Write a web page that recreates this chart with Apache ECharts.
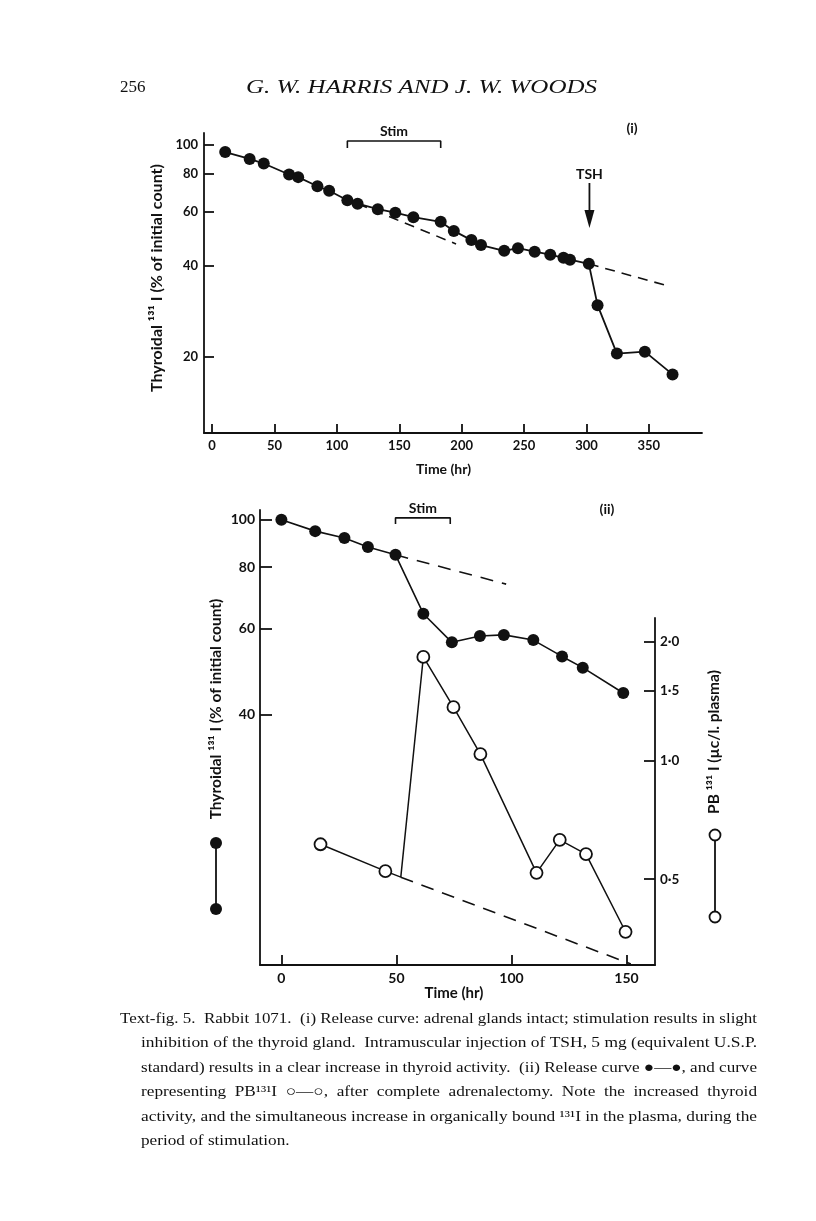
<!DOCTYPE html>
<html><head><meta charset="utf-8">
<script src="https://cdn.jsdelivr.net/npm/echarts@6/dist/echarts.min.js"></script>
<style>html,body{margin:0;padding:0;background:#fff}#c{width:816px;height:1221px}</style>
</head><body><div id="c"></div>
<script>
// ---------- Panel (i): release curve, adrenal glands intact ----------
const timeI = [10.5,30.1,41.4,61.7,69.0,84.4,93.8,108.4,116.6,132.8,146.8,161.3,183.2,193.7,207.8,215.5,234.1,245.1,258.5,271.0,281.6,286.8,301.9,308.9,324.4,346.8,369.0];
const thyroidI = [94.6,89.8,86.7,79.8,78.2,73.0,70.5,65.6,63.9,61.3,59.7,57.7,55.7,52.0,48.5,46.7,44.7,45.6,44.4,43.4,42.4,41.8,40.5,29.6,20.5,20.8,17.5];
const extrapI1Time = [116.6,195.5];
const extrapI1Val  = [63.9,47.1];
const extrapI2Time = [301.9,362.5];
const extrapI2Val  = [40.5,34.5];
const stimI = [108.4,183.2];
const tshTime = 302.4;
const xTicksI = [0,50,100,150,200,250,300,350];
const yTicksI = [20,40,60,80,100];

// ---------- Panel (ii): after adrenalectomy ----------
const timeII = [0,14.7,27.4,37.6,49.6,61.7,74.1,86.3,96.7,109.5,122.0,131.0,148.6];
const thyroidII = [100,94.8,91.8,88.0,84.8,64.3,56.2,57.9,58.2,56.8,52.6,49.9,44.3];
const extrapII1Time = [49.6,97.7];
const extrapII1Val  = [84.8,73.9];
const timePB = [17.0,45.2,51.9,61.7,74.8,86.5,110.9,121.0,132.4,149.6];
const pbValues = [0.613,0.524,0.506,1.827,1.363,1.037,0.519,0.629,0.579,0.368];
const pbHiddenIndex = 2; // line vertex without a marker
const extrapPBTime = [51.9,151.9];
const extrapPBVal  = [0.506,0.305];
const stimII = [49.6,73.4];
const xTicksII = [0,50,100,150];
const yTicksIILeft = [40,60,80,100];
const yTicksIIRight = [0.5,1.0,1.5,2.0];

const captionLines = [
 'Text-fig. 5.  Rabbit 1071.  (i) Release curve: adrenal glands intact; stimulation results in slight',
 'inhibition of the thyroid gland.  Intramuscular injection of TSH, 5 mg (equivalent U.S.P.',
 'standard) results in a clear increase in thyroid activity.  (ii) Release curve \u25CF\u2014\u25CF, and curve',
 'representing  PB\u00B9\u00B3\u00B9I  \u25CB\u2014\u25CB,  after  complete  adrenalectomy.  Note  the  increased  thyroid',
 'activity, and the simultaneous increase in organically bound \u00B9\u00B3\u00B9I in the plasma, during the',
 'period of stimulation.'
];

const BLACK = '#111';
const axLine = {color: BLACK, width: 1.8};
const tickFont = {color: BLACK, fontFamily: 'Lato', fontWeight: 'bold'};

function pairs(xs, ys){ return xs.map((x,i)=>[x, ys[i]]); }

const chart = echarts.init(document.getElementById('c'), null, {renderer:'canvas', width:816, height:1221});

const option = {
  animation: false,
  backgroundColor: '#fff',
  grid: [
    {left:204, top:133, width:498, height:300},
    {left:260, top:510, width:395, height:455},
    {left:260, top:618, width:395, height:347}
  ],
  xAxis: [
    {gridIndex:0, type:'value', min:-6.49, max:392.6,
     axisLine:{show:true, onZero:false, lineStyle:axLine},
     axisTick:{show:true, inside:true, length:9, customValues:xTicksI, lineStyle:axLine},
     axisLabel:{customValues:xTicksI, margin:6, fontSize:13, ...tickFont},
     splitLine:{show:false},
     name:'Time (hr)', nameLocation:'middle', nameGap:29,
     nameTextStyle:{color:BLACK, fontFamily:'Lato', fontWeight:'bold', fontSize:14, padding:[0,19,0,0]}},
    {gridIndex:1, type:'value', min:-9.30, max:162.4,
     axisLine:{show:true, onZero:false, lineStyle:axLine},
     axisTick:{show:true, inside:true, length:10, customValues:xTicksII, lineStyle:axLine},
     axisLabel:{customValues:xTicksII, margin:6, fontSize:14, ...tickFont},
     splitLine:{show:false},
     name:'Time (hr)', nameLocation:'middle', nameGap:20,
     nameTextStyle:{color:BLACK, fontFamily:'Lato', fontWeight:'bold', fontSize:15, padding:[0,7,0,0]}},
    {gridIndex:2, type:'value', min:-9.30, max:162.4, show:false, splitLine:{show:false}}
  ],
  yAxis: [
    {gridIndex:0, type:'log', min:11.22, max:109.3,
     axisLine:{show:true, onZero:false, lineStyle:axLine},
     axisTick:{show:true, inside:true, length:10, customValues:yTicksI, lineStyle:axLine},
     axisLabel:{customValues:yTicksI, margin:6, fontSize:13, ...tickFont},
     splitLine:{show:false}, minorTick:{show:false},
     name:'Thyroidal \u00B9\u00B3\u00B9 I (% of initial count)', nameLocation:'middle', nameRotate:90, nameGap:33,
     nameTextStyle:{color:BLACK, fontFamily:'Lato', fontWeight:'bold', fontSize:16, padding:[0,0,0,10]}},
    {gridIndex:1, type:'log', min:12.33, max:104.7,
     axisLine:{show:true, onZero:false, lineStyle:axLine},
     axisTick:{show:true, inside:true, length:12, customValues:yTicksIILeft, lineStyle:axLine},
     axisLabel:{customValues:yTicksIILeft, margin:5, fontSize:14, ...tickFont},
     splitLine:{show:false}},
    {gridIndex:2, type:'log', position:'right', min:0.3032, max:2.293,
     axisLine:{show:true, onZero:false, lineStyle:axLine},
     axisTick:{show:true, inside:true, length:11, customValues:yTicksIIRight, lineStyle:axLine},
     axisLabel:{customValues:yTicksIIRight, margin:5, fontSize:13.5, ...tickFont,
       formatter: v => Number(v).toFixed(1).replace('.', '\u00B7')},
     splitLine:{show:false}}
  ],
  series: [
    {name:'Extrapolation (i) a', type:'line', xAxisIndex:0, yAxisIndex:0, data:pairs(extrapI1Time, extrapI1Val),
     symbol:'none', silent:true, lineStyle:{color:BLACK, width:1.6, type:[10,7]}, z:2},
    {name:'Extrapolation (i) b', type:'line', xAxisIndex:0, yAxisIndex:0, data:pairs(extrapI2Time, extrapI2Val),
     symbol:'none', silent:true, lineStyle:{color:BLACK, width:1.6, type:[10,7]}, z:2},
    {name:'Thyroidal 131I (i)', type:'line', xAxisIndex:0, yAxisIndex:0, data:pairs(timeI, thyroidI),
     symbol:'circle', symbolSize:12, itemStyle:{color:BLACK}, lineStyle:{color:BLACK, width:1.8}, z:3},
    {name:'Stim (i)', type:'line', xAxisIndex:0, yAxisIndex:0,
     data:[[stimI[0],97.55],[stimI[0],102.85],[stimI[1],102.85],[stimI[1],97.55]],
     symbol:'none', silent:true, lineStyle:{color:BLACK, width:1.6}},

    {name:'Extrapolation (ii) thyroid', type:'line', xAxisIndex:1, yAxisIndex:1, data:pairs(extrapII1Time, extrapII1Val),
     symbol:'none', silent:true, lineStyle:{color:BLACK, width:1.6, type:[13,9]}, z:2},
    {name:'Thyroidal 131I (ii)', type:'line', xAxisIndex:1, yAxisIndex:1, data:pairs(timeII, thyroidII),
     symbol:'circle', symbolSize:12, itemStyle:{color:BLACK}, lineStyle:{color:BLACK, width:1.6}, z:3},
    {name:'Stim (ii)', type:'line', xAxisIndex:1, yAxisIndex:1,
     data:[[stimII[0],98.0],[stimII[0],100.9],[stimII[1],100.9],[stimII[1],98.0]],
     symbol:'none', silent:true, lineStyle:{color:BLACK, width:1.6}},

    {name:'Extrapolation PB131I', type:'line', xAxisIndex:2, yAxisIndex:2, data:pairs(extrapPBTime, extrapPBVal),
     symbol:'none', silent:true, lineStyle:{color:BLACK, width:1.6, type:[13,9]}, z:2},
    {name:'PB131I', type:'line', xAxisIndex:2, yAxisIndex:2,
     data: timePB.map((t,i)=> i===pbHiddenIndex ? {value:[t,pbValues[i]], symbol:'none'} : [t,pbValues[i]]),
     symbol:'circle', symbolSize:12, itemStyle:{color:'#fff', borderColor:BLACK, borderWidth:1.8},
     lineStyle:{color:BLACK, width:1.5}, z:3}
  ]
};
chart.setOption(option);

// ---------- annotations & page text ----------
const ctx = document.createElement('canvas').getContext('2d');
function textW(t, font){ ctx.font = font; return ctx.measureText(t).width; }

const g = [];
function label(t, x, y, font, extra){
  g.push(Object.assign({type:'text', x:x, y:y, silent:true,
    style:{text:t, font:font, fill:BLACK, textAlign:'center', textVerticalAlign:'middle'}}, extra||{}));
}
const sansB = (s)=>'bold '+s+'px Lato';

// Stim labels / TSH arrow anchored to data positions
const s1a = chart.convertToPixel({gridIndex:0}, [stimI[0], 50])[0];
const s1b = chart.convertToPixel({gridIndex:0}, [stimI[1], 50])[0];
label('Stim', (s1a+s1b)/2, 131, sansB(14));
const s2a = chart.convertToPixel({gridIndex:1}, [stimII[0], 50])[0];
const s2b = chart.convertToPixel({gridIndex:1}, [stimII[1], 50])[0];
label('Stim', (s2a+s2b)/2, 508, sansB(14));

const tx = chart.convertToPixel({gridIndex:0}, [tshTime, 50])[0];
label('TSH', tx, 174, sansB(14));
g.push({type:'line', silent:true, shape:{x1:tx, y1:183, x2:tx, y2:212}, style:{stroke:BLACK, lineWidth:1.8}});
g.push({type:'polygon', silent:true, shape:{points:[[tx-5,210],[tx+5,210],[tx,228]]}, style:{fill:BLACK}});

label('(i)', 632, 128, sansB(14));
label('(ii)', 607, 509, sansB(14));

// axis titles of panel (ii)
label('Thyroidal \u00B9\u00B3\u00B9 I (% of initial count)', 216, 709, sansB(15.5), {rotation:Math.PI/2});
label('PB \u00B9\u00B3\u00B9 I (\u00B5c/l. plasma)', 714, 742, sansB(15.5), {rotation:Math.PI/2});

// key glyphs beside the axis titles
g.push({type:'line', silent:true, shape:{x1:216, y1:843, x2:216, y2:909}, style:{stroke:BLACK, lineWidth:1.8}});
g.push({type:'circle', silent:true, shape:{cx:216, cy:843, r:6}, style:{fill:BLACK}});
g.push({type:'circle', silent:true, shape:{cx:216, cy:909, r:6}, style:{fill:BLACK}});
g.push({type:'line', silent:true, shape:{x1:715, y1:835, x2:715, y2:917}, style:{stroke:BLACK, lineWidth:1.8}});
g.push({type:'circle', silent:true, z:10, shape:{cx:715, cy:835, r:5.5}, style:{fill:'#fff', stroke:BLACK, lineWidth:1.8}});
g.push({type:'circle', silent:true, z:10, shape:{cx:715, cy:917, r:5.5}, style:{fill:'#fff', stroke:BLACK, lineWidth:1.8}});

// page header
g.push({type:'text', x:120, y:88, silent:true, style:{text:'256', font:'17px "Liberation Serif"', fill:BLACK, textVerticalAlign:'middle'}});
const hdr = 'G. W. HARRIS AND J. W. WOODS';
const hdrFont = 'italic 19px "Liberation Serif"';
g.push({type:'text', x:246, y:88, silent:true, scaleX:351/textW(hdr, hdrFont),
  style:{text:hdr, font:hdrFont, fill:BLACK, textVerticalAlign:'middle'}});

// caption
const capFont = '15px "Liberation Serif"';
let scales = [];
captionLines.forEach((t,i)=>{
  const left = i===0 ? 120 : 141;
  const sc = (757-left)/textW(t, capFont);
  if (i < captionLines.length-1) scales.push(sc);
});
const avgSc = scales.reduce((a,b)=>a+b,0)/scales.length;
captionLines.forEach((t,i)=>{
  const left = i===0 ? 120 : 141;
  const sc = i < captionLines.length-1 ? scales[i] : avgSc;
  g.push({type:'text', x:left, y:1019 + i*24.4, silent:true, scaleX:sc,
    style:{text:t, font:capFont, fill:BLACK, textVerticalAlign:'middle'}});
});

chart.setOption({graphic: g});
</script>
</body></html>
